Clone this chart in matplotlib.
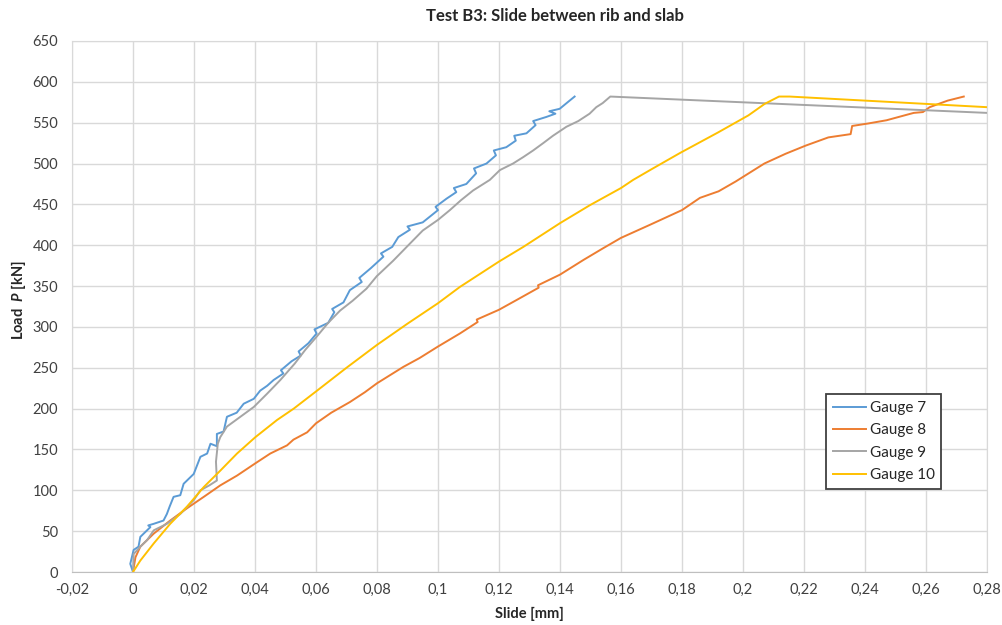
import matplotlib
matplotlib.use("Agg")
import matplotlib.pyplot as plt
from matplotlib.ticker import MultipleLocator, FuncFormatter

plt.rcParams['font.family'] = ['Lato', 'DejaVu Sans']
plt.rcParams['mathtext.fontset'] = 'custom'
plt.rcParams['mathtext.bfit'] = 'Lato:italic:bold'
plt.rcParams['mathtext.rm'] = 'Lato'
plt.rcParams['mathtext.it'] = 'Lato:italic'
plt.rcParams['mathtext.bf'] = 'Lato:bold'

title = "Test B3: Slide between rib and slab"
xlabel = "Slide [mm]"
ylabel = r"Load  $\mathbfit{P}$ [kN]"

# Gauge 7
g7_x = [0, -0.0009, 0.0002, 0.0018, 0.0024, 0.0057, 0.0050, 0.0068, 0.0100, 0.0111, 0.0120, 0.0133,
        0.0155, 0.0166, 0.0199, 0.0221, 0.0243, 0.0254, 0.0275, 0.0275, 0.0297, 0.0308, 0.0340, 0.0363,
        0.0396, 0.0417, 0.0440, 0.0461, 0.0493, 0.0485, 0.0520, 0.0550, 0.0543, 0.0575, 0.0602, 0.0595,
        0.0640, 0.0660, 0.0653, 0.0690, 0.0711, 0.0750, 0.0742, 0.0780, 0.0821, 0.0813, 0.0850, 0.0870,
        0.0908, 0.0900, 0.0950, 0.1000, 0.0992, 0.1028, 0.1060, 0.1052, 0.1093, 0.1125, 0.1118, 0.1159,
        0.1190, 0.1183, 0.1224, 0.1255, 0.1250, 0.1290, 0.1320, 0.1312, 0.1355, 0.1385, 0.1365, 0.1399,
        0.1425, 0.1448]
g7_y = [0, 10, 27, 31, 43, 55, 57, 59, 63, 71, 80, 92,
        94, 108, 120, 141, 145, 157, 154, 169, 172, 190, 195, 206,
        212, 222, 228, 235, 243, 247, 258, 265, 270, 280, 292, 297,
        305, 318, 322, 330, 345, 355, 360, 372, 386, 390, 398, 410,
        419, 423, 428, 443, 447, 457, 465, 470, 475, 488, 494, 500,
        510, 516, 520, 528, 534, 537, 547, 552, 557, 561, 564, 567,
        575, 582]

# Gauge 8
g8_x = [0, 0.0008, 0.0024, 0.0068, 0.0122, 0.0177, 0.0232, 0.0286, 0.0341, 0.0401, 0.0450, 0.0505,
        0.0526, 0.0571, 0.0600, 0.0650, 0.0711, 0.0760, 0.0800, 0.0886, 0.0940, 0.1000, 0.1072,
        0.1130, 0.1127, 0.1200, 0.1258, 0.1330, 0.1328, 0.1400, 0.1477, 0.1540, 0.1600, 0.1695,
        0.1800, 0.1859, 0.1920, 0.1976, 0.2070, 0.2140, 0.2206, 0.2280, 0.2353, 0.2358, 0.2410,
        0.2471, 0.2540, 0.2560, 0.2590, 0.2612, 0.2671, 0.2724]
g8_y = [0, 18, 31, 47, 63, 78, 92, 106, 118, 133, 145, 155,
        162, 171, 182, 195, 208, 220, 231, 251, 262, 276, 292,
        306, 309, 321, 333, 348, 351, 364, 382, 396, 409, 425,
        443, 458, 466, 478, 500, 512, 522, 532, 536, 546, 549,
        553, 560, 562, 563, 569, 577, 582]

# Gauge 9
g9_x = [0, 0.0002, 0.0024, 0.0046, 0.0068, 0.0111, 0.0155, 0.0199, 0.0221, 0.0250, 0.0275, 0.0272,
        0.0278, 0.0286, 0.0308, 0.0352, 0.0396, 0.0439, 0.0483, 0.0530, 0.0565, 0.0602, 0.0640, 0.0679,
        0.0720, 0.0766, 0.0799, 0.0853, 0.0908, 0.0950, 0.1000, 0.1039, 0.1075, 0.1115, 0.1170, 0.1203,
        0.1246, 0.1280, 0.1312, 0.1345, 0.1377, 0.1421, 0.1460, 0.1497, 0.1519, 0.1540, 0.1565, 0.2800]
g9_y = [0, 22, 31, 39, 51, 59, 71, 88, 100, 106, 112, 135,
        157, 165, 178, 190, 202, 218, 235, 255, 272, 288, 305, 320,
        332, 347, 362, 381, 402, 418, 431, 443, 455, 467, 480, 492,
        500, 508, 516, 525, 534, 545, 552, 561, 569, 574, 582, 562]

# Gauge 10
g10_x = [0, 0.0024, 0.0068, 0.0122, 0.0177, 0.0232, 0.0286, 0.0341, 0.0401, 0.0472, 0.0527, 0.0600,
         0.0700, 0.0800, 0.0900, 0.1000, 0.1072, 0.1200, 0.1280, 0.1400, 0.1498, 0.1600, 0.1640, 0.1700,
         0.1794, 0.1918, 0.2018, 0.2071, 0.2118, 0.2153, 0.2800]
g10_y = [0, 14, 35, 59, 80, 104, 124, 145, 165, 186, 200, 221,
         250, 278, 304, 329, 349, 380, 398, 427, 449, 470, 480, 493,
         513, 538, 559, 573, 582, 582, 569]

series = [("Gauge 7", g7_x, g7_y, "#5B9BD5"),
          ("Gauge 8", g8_x, g8_y, "#ED7D31"),
          ("Gauge 9", g9_x, g9_y, "#A5A5A5"),
          ("Gauge 10", g10_x, g10_y, "#FFC000")]

fig = plt.figure(figsize=(10.03, 6.25), dpi=100)
ax = fig.add_axes([0.0718, 0.0848, 0.9122, 0.8496])

for name, xs, ys, c in series:
    ax.plot(xs, ys, color=c, lw=1.4, label=name, solid_joinstyle='round')

ax.set_xlim(-0.02, 0.28)
ax.set_ylim(0, 650)
ax.xaxis.set_major_locator(MultipleLocator(0.02))
ax.yaxis.set_major_locator(MultipleLocator(50))

def fmt_x(v, pos):
    s = f"{v:.2f}".rstrip('0').rstrip('.')
    if s in ("-0", "0.0"):
        s = "0"
    return s.replace('.', ',')

ax.xaxis.set_major_formatter(FuncFormatter(fmt_x))
ax.grid(True, color='#D9D9D9', lw=1)
ax.set_axisbelow(True)
for s in ax.spines.values():
    s.set_color('#D9D9D9')
ax.spines['bottom'].set_color('#BFBFBF')
ax.tick_params(length=0, labelsize=10.5, colors='#404040', pad=8)
ax.tick_params(axis='y', pad=10)

fig.text(0.553, 0.975, title, ha='center', va='center', fontsize=12, fontweight='bold', color='#262626')
fig.text(0.528, 0.017, xlabel, ha='center', va='center', fontsize=10.5, fontweight='bold', color='#262626')
fig.text(0.018, 0.52, ylabel, ha='center', va='center', rotation=90, fontsize=10.5, fontweight='bold', color='#262626')

leg = ax.legend(loc='upper left', bbox_to_anchor=(0.8235, 0.3696), bbox_transform=fig.transFigure,
                frameon=True, fancybox=False, framealpha=1, edgecolor='#404040', fontsize=11,
                handlelength=2.2, handletextpad=0.2, labelspacing=0.55, borderpad=0.45, borderaxespad=0)
leg.get_frame().set_linewidth(1.3)
for t in leg.get_texts():
    t.set_color('#262626')

fig.savefig("out.png", dpi=100)
